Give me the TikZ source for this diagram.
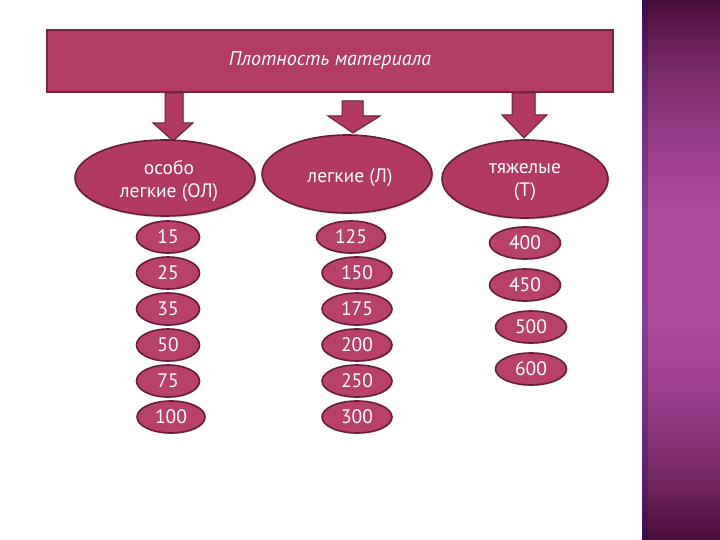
\documentclass[tikz,border=0pt]{standalone}
\usepackage{fontspec}
\setmainfont{PT Sans}
\usetikzlibrary{shapes.geometric,shadows}
\definecolor{wine}{HTML}{B2395F}
\definecolor{winelight}{HTML}{B8416A}
\definecolor{wineline}{HTML}{6A1C3C}
\definecolor{headfill}{HTML}{B23C62}
\definecolor{headline}{HTML}{7A2444}
\definecolor{pdark}{HTML}{4A0E3C}
\definecolor{pmid}{HTML}{B04CA0}
\begin{document}
\begin{tikzpicture}[x=1pt,y=-1pt,
  bigell/.style={ellipse,fill=wine,draw=wineline,line width=1.6pt,
    inner sep=0pt,
    drop shadow={shadow xshift=1pt,shadow yshift=-1.5pt,opacity=0.35}},
  biglbl/.style={text=white,align=center,inner sep=0pt,
    font=\fontsize{19.5}{22.5}\selectfont},
  numell/.style={ellipse,fill=winelight,draw=wineline,line width=1.6pt,text=white,
    inner sep=0pt,minimum height=32pt,font=\fontsize{19.5}{22}\selectfont,
    drop shadow={shadow xshift=0.8pt,shadow yshift=-1pt,opacity=0.3}},
  blockarr/.style={fill=wine,draw=wineline,line width=1pt,line join=miter},
  header/.style={rectangle,fill=headfill,draw=headline,line width=1.5pt,
    text=white,font=\fontsize{20}{24}\selectfont\itshape}]
\useasboundingbox (0,0) rectangle (720,540);
\fill[white] (0,0) rectangle (720,540);
% right decorative panel (vertical gradient: dark - bright - dark)
\foreach \i in {0,...,107}{
  \pgfmathsetmacro{\tt}{abs((\i+0.5)*5-270)/270}
  \pgfmathtruncatemacro{\pp}{100*(1-\tt*\tt)}
  \fill[pmid!\pp!pdark] (642,{\i*5}) rectangle (720,{\i*5+5.6});
}
\fill[blue!50!black,opacity=0.2] (642,0) rectangle (648,540);
% header
\node[header,minimum width=566pt,minimum height=62pt] (head) at (330,61) {Плотность материала};
% block arrows
\draw[blockarr] (165,93) -- (183,93) -- (183,123) -- (193,123) -- (173,141) -- (153,123) -- (165,123) -- cycle;
\draw[blockarr] (342,101) -- (363,101) -- (363,116) -- (380,116) -- (353,133) -- (328,116) -- (342,116) -- cycle;
\draw[blockarr] (512,93) -- (535,93) -- (535,115) -- (547,115) -- (524,138) -- (502,115) -- (512,115) -- cycle;
% categories
\node[bigell,minimum width=180pt,minimum height=76pt] (ol) at (165,178) {};
\node[biglbl] (olt) at (169,181) {особо\\легкие (ОЛ)};
\node[bigell,minimum width=170pt,minimum height=78pt] (l) at (347,174) {};
\node[biglbl] (lt) at (350,178) {легкие (Л)};
\node[bigell,minimum width=166pt,minimum height=78pt] (t) at (525,179) {};
\node[biglbl] (tt) at (525,182) {тяжелые\\(Т)};
% column 1
\node[numell,minimum width=63pt] (a1) at (168,237) {15};
\node[numell,minimum width=63pt] (a2) at (168,273) {25};
\node[numell,minimum width=63pt] (a3) at (168,309) {35};
\node[numell,minimum width=63pt] (a4) at (168,345) {50};
\node[numell,minimum width=63pt] (a5) at (168,381) {75};
\node[numell,minimum width=68pt] (a6) at (171,417) {100};
% column 2
\node[numell,minimum width=69pt] (b1) at (351,237) {125};
\node[numell,minimum width=70pt] (b2) at (357,273) {150};
\node[numell,minimum width=70pt] (b3) at (357,309) {175};
\node[numell,minimum width=70pt] (b4) at (357,345) {200};
\node[numell,minimum width=70pt] (b5) at (357,381) {250};
\node[numell,minimum width=70pt] (b6) at (357,417) {300};
% column 3
\node[numell,minimum width=71pt] (c1) at (525,243) {400};
\node[numell,minimum width=71pt] (c2) at (525,285) {450};
\node[numell,minimum width=71pt] (c3) at (531,327) {500};
\node[numell,minimum width=71pt] (c4) at (531,369) {600};
\end{tikzpicture}
\end{document}
